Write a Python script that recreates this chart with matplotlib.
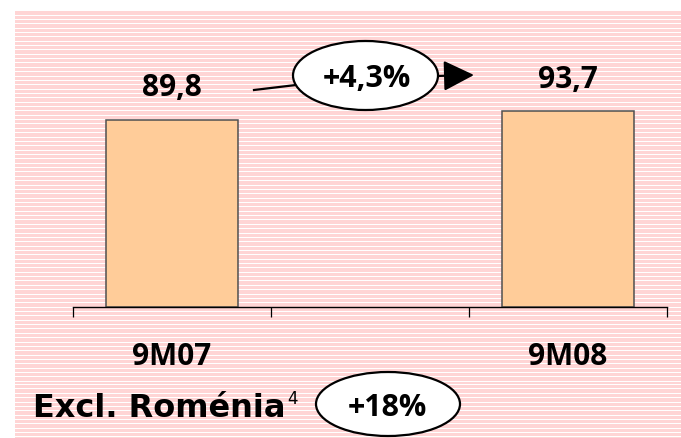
import matplotlib
matplotlib.use("Agg")
import matplotlib.pyplot as plt
from matplotlib.patches import Ellipse, Rectangle
import numpy as np

# ---- data ----
categories = ["9M07", "", "9M08"]
values = [89.8, None, 93.7]
value_labels = ["89,8", "", "93,7"]
growth_label = "+4,3%"
excl_label = "Excl. Roménia"
excl_sup = "4"
excl_growth = "+18%"

W, H = 681, 439
fig = plt.figure(figsize=(W / 100, H / 100), dpi=100)
fig.patch.set_facecolor("white")

# background / overlay axes in pixel coordinates
bg = fig.add_axes([0, 0, 1, 1], zorder=0)
bg.set_xlim(0, W)
bg.set_ylim(H, 0)
bg.axis("off")

pink = "#FFD5D5"
bg.add_patch(Rectangle((15, 12), W - 15, H - 12, facecolor=pink, edgecolor="none"))
period = 4.36
yy = 12 + 3.0
while yy < H:
    yp = np.floor(yy) + 0.5
    bg.plot([15, W], [yp, yp], color="white", lw=0.72, solid_capstyle="butt", antialiased=False)
    yy += period

# main axes
left, right, bottom_px, top_px = 73, 667, 308, 12
ax = fig.add_axes([left / W, (H - bottom_px) / H, (right - left) / W, (bottom_px - top_px) / H], zorder=1)
ax.patch.set_alpha(0)
x = np.arange(len(categories))
for xi, v in zip(x, values):
    if v is not None:
        ax.bar(xi, v, width=0.67, color="#FFCC99", edgecolor="#505050", linewidth=1.1, zorder=2)
ax.set_xlim(-0.5, len(categories) - 0.5)
ax.set_ylim(0, 141.8)
for s in ["top", "right", "left"]:
    ax.spines[s].set_visible(False)
ax.spines["bottom"].set_color("black")
ax.spines["bottom"].set_linewidth(1.0)
ax.set_yticks([])
ax.set_xticks(np.arange(-0.5, len(categories), 1.0))
ax.set_xticklabels([])
ax.tick_params(axis="x", direction="out", length=7.2, width=0.9, color="black")

numfont = dict(family=["Open Sans", "DejaVu Sans"], weight="bold")
for xi, v, lab in zip(x, values, value_labels):
    if v is not None:
        ax.annotate(lab, (xi, v), xytext=(0, 23.5), textcoords="offset points",
                    ha="center", va="center", fontsize=21.5, color="black", **numfont)
for xi, c in zip(x, categories):
    if c:
        ax.annotate(c, (xi, 0), xytext=(0, -35.5), textcoords="offset points",
                    ha="center", va="center", fontsize=21.5, color="black", **numfont)

# growth arrow with ellipse
bg.plot([254, 296], [91, 86], color="black", lw=1.6, zorder=3)
bg.annotate("", xy=(474, 76), xytext=(436, 77),
            arrowprops=dict(arrowstyle="-|>,head_length=1.9,head_width=0.95", color="black", lw=1.6,
                            shrinkA=0, shrinkB=0), zorder=3)
bg.add_patch(Ellipse((365.5, 76.5), 145, 69, facecolor="white", edgecolor="black", lw=1.6, zorder=4))
bg.text(367, 79, growth_label, ha="center", va="center", fontsize=22, zorder=5, **numfont)

# excl. Roménia
bg.text(33, 409, excl_label, ha="left", va="center", fontsize=23,
        family=["DejaVu Sans"], weight="bold", color="black", zorder=5)
bg.text(287, 399, excl_sup, ha="left", va="center", fontsize=12,
        family=["DejaVu Sans"], color="black", zorder=5)
bg.add_patch(Ellipse((388, 405), 144, 64, facecolor="white", edgecolor="black", lw=1.6, zorder=4))
bg.text(387, 408, excl_growth, ha="center", va="center", fontsize=22, zorder=5, **numfont)

fig.savefig("out.png", dpi=100, facecolor="white")
